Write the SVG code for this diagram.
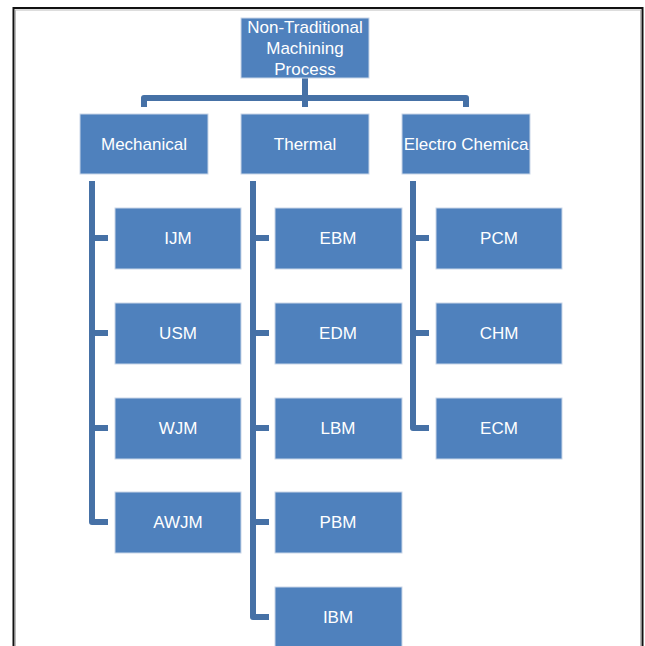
<svg xmlns="http://www.w3.org/2000/svg" width="645" height="646" viewBox="0 0 645 646">
<style>
.box{fill:#4F81BD;stroke:#C9D6E8;stroke-width:1}
.t{font-family:"Liberation Sans",Arial,sans-serif;font-size:17px;fill:#FFFFFF;text-anchor:middle}
.c{fill:none;stroke:#4671A6;stroke-width:6;stroke-linejoin:round;stroke-linecap:butt}
</style>
<rect x="0" y="0" width="645" height="646" fill="#FFFFFF"/>
<rect x="13.5" y="8" width="629" height="660" fill="none" stroke="#111111" stroke-width="2"/>
<rect x="15.5" y="10" width="625" height="660" fill="none" stroke="#BBBBBB" stroke-width="1"/>
<g id="connectors">
<path class="c" d="M305,78 V98"/>
<path class="c" d="M144,107 V98 H466 V107"/>
<path class="c" d="M305,98 V107"/>
<path class="c" d="M92,181 V522 H108"/>
<path class="c" d="M92,238 H108 M92,333 H108 M92,428 H108"/>
<path class="c" d="M253,181 V617 H269"/>
<path class="c" d="M253,238 H269 M253,333 H269 M253,428 H269 M253,522 H269"/>
<path class="c" d="M413,181 V428 H429"/>
<path class="c" d="M413,238 H429 M413,333 H429"/>
</g>
<g id="root"><rect class="box" x="241" y="18" width="128" height="60"/>
<text class="t" x="305" y="33">Non-Traditional</text>
<text class="t" x="305" y="54">Machining</text>
<text class="t" x="305" y="75">Process</text></g>
<g id="mechanical"><rect class="box" x="80" y="114" width="128" height="60"/><text class="t" x="144" y="150">Mechanical</text></g>
<g id="thermal"><rect class="box" x="241" y="114" width="128" height="60"/><text class="t" x="305" y="150">Thermal</text></g>
<g id="electro"><rect class="box" x="402" y="114" width="128" height="60"/><text class="t" x="466" y="150">Electro Chemica</text></g>
<g id="ijm"><rect class="box" x="115" y="208" width="126" height="61"/><text class="t" x="178" y="244">IJM</text></g>
<g id="usm"><rect class="box" x="115" y="303" width="126" height="61"/><text class="t" x="178" y="339">USM</text></g>
<g id="wjm"><rect class="box" x="115" y="398" width="126" height="61"/><text class="t" x="178" y="434">WJM</text></g>
<g id="awjm"><rect class="box" x="115" y="492" width="126" height="61"/><text class="t" x="178" y="528">AWJM</text></g>
<g id="ebm"><rect class="box" x="275" y="208" width="127" height="61"/><text class="t" x="338" y="244">EBM</text></g>
<g id="edm"><rect class="box" x="275" y="303" width="127" height="61"/><text class="t" x="338" y="339">EDM</text></g>
<g id="lbm"><rect class="box" x="275" y="398" width="127" height="61"/><text class="t" x="338" y="434">LBM</text></g>
<g id="pbm"><rect class="box" x="275" y="492" width="127" height="61"/><text class="t" x="338" y="528">PBM</text></g>
<g id="ibm"><rect class="box" x="275" y="587" width="127" height="70"/><text class="t" x="338" y="623">IBM</text></g>
<g id="pcm"><rect class="box" x="436" y="208" width="126" height="61"/><text class="t" x="499" y="244">PCM</text></g>
<g id="chm"><rect class="box" x="436" y="303" width="126" height="61"/><text class="t" x="499" y="339">CHM</text></g>
<g id="ecm"><rect class="box" x="436" y="398" width="126" height="61"/><text class="t" x="499" y="434">ECM</text></g>
</svg>
